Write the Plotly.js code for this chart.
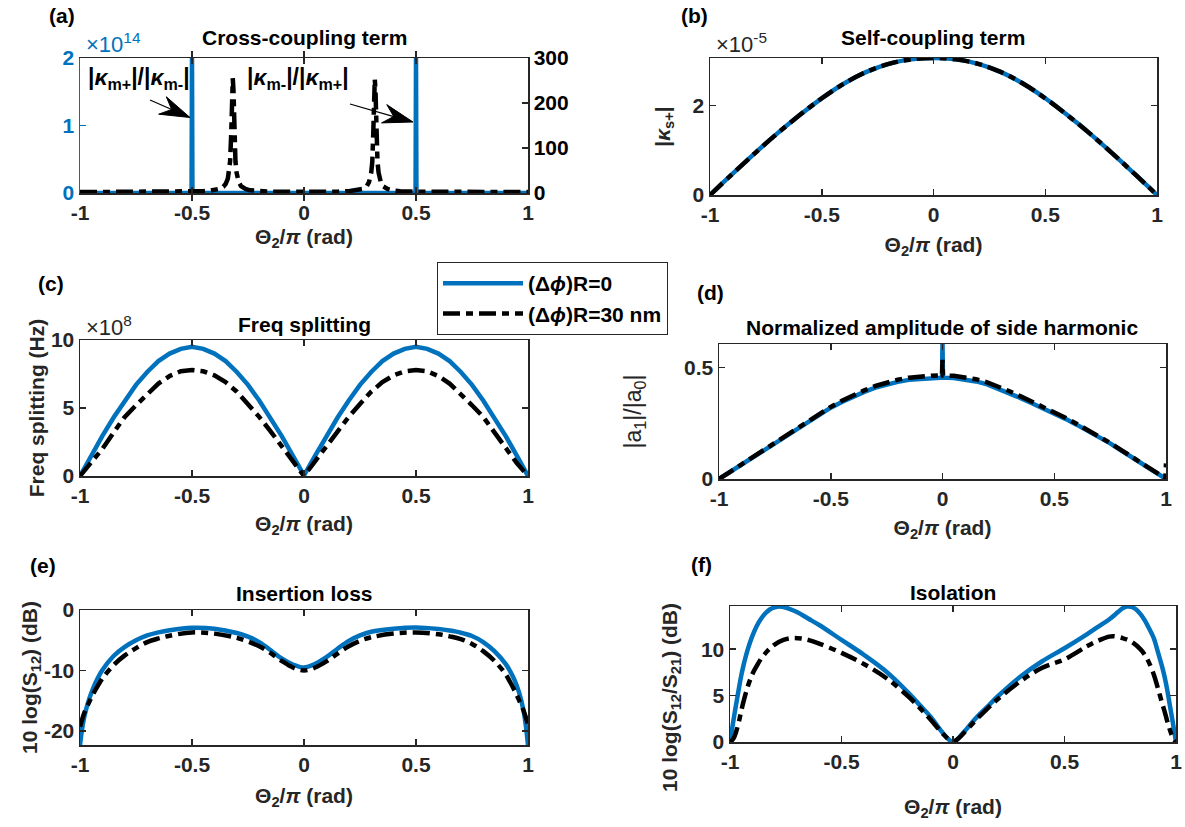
<!DOCTYPE html>
<html>
<head>
<meta charset="utf-8">
<script src="https://cdn.plot.ly/plotly-3.0.1.min.js"></script>
<style>html,body{margin:0;padding:0;background:#fff;}#chart{width:1185px;height:827px;}</style>
</head>
<body>
<div id="chart"></div>
<script>
// ---------------- DATA ----------------
const xTicks = [-1, -0.5, 0, 0.5, 1];
const xTickText = ['-1', '-0.5', '0', '0.5', '1'];

// (a) Cross-coupling term
const aBlueX = [-1, -0.502, -0.5, -0.498, 0.498, 0.5, 0.502, 1];
const aBlueY = [0, 0, 2e14, 0, 0, 2e14, 0, 0];
const aBlackX = [-1, -0.9, -0.8, -0.7, -0.6, -0.5, -0.45, -0.42, -0.4, -0.38, -0.36, -0.35, -0.34, -0.335, -0.33, -0.325, -0.321, -0.318, -0.315, -0.311, -0.306, -0.301, -0.291, -0.281, -0.261, -0.241, -0.2, -0.15, -0.1, 0, 0.1, 0.15, 0.2, 0.24, 0.26, 0.28, 0.29, 0.3, 0.305, 0.309, 0.313, 0.316, 0.319, 0.323, 0.328, 0.333, 0.343, 0.353, 0.373, 0.393, 0.43, 0.5, 0.6, 0.7, 0.8, 0.9, 1];
const aBlackY = [2, 2, 2, 2, 3, 3, 4, 5, 6, 9, 14, 20, 32, 45, 70, 130, 235, 255, 230, 130, 70, 45, 24, 15, 9, 6, 4, 3, 3, 2, 3, 3, 4, 6, 9, 15, 24, 45, 70, 130, 230, 253, 230, 130, 70, 45, 24, 15, 9, 6, 4, 3, 3, 2, 2, 2, 2];

// (b) Self-coupling term (units of 1e-5)
const bX = [-1, -0.9, -0.8, -0.7, -0.6, -0.5, -0.4, -0.3, -0.2, -0.1, 0, 0.1, 0.2, 0.3, 0.4, 0.5, 0.6, 0.7, 0.8, 0.9, 1];
const bBlue = [0, 0.47, 0.93, 1.37, 1.78, 2.16, 2.49, 2.75, 2.93, 3.03, 3.06, 3.03, 2.93, 2.75, 2.49, 2.16, 1.78, 1.37, 0.93, 0.47, 0];
const bBlack = [0, 0.47, 0.93, 1.37, 1.78, 2.16, 2.49, 2.75, 2.93, 3.03, 3.06, 3.03, 2.93, 2.75, 2.49, 2.16, 1.78, 1.37, 0.93, 0.47, 0];

// (c) Freq splitting (units of 1e8 Hz)
const cX = [-1, -0.95, -0.9, -0.85, -0.8, -0.75, -0.7, -0.65, -0.6, -0.55, -0.5, -0.45, -0.4, -0.35, -0.3, -0.25, -0.2, -0.15, -0.1, -0.05, 0, 0.05, 0.1, 0.15, 0.2, 0.25, 0.3, 0.35, 0.4, 0.45, 0.5, 0.55, 0.6, 0.65, 0.7, 0.75, 0.8, 0.85, 0.9, 0.95, 1];
const cBlue = [0, 1.5, 2.95, 4.3, 5.55, 6.7, 7.65, 8.45, 9.0, 9.35, 9.5, 9.35, 9.0, 8.45, 7.65, 6.7, 5.55, 4.3, 2.95, 1.5, 0.05, 1.5, 2.95, 4.3, 5.55, 6.7, 7.65, 8.45, 9.0, 9.35, 9.5, 9.35, 9.0, 8.45, 7.65, 6.7, 5.55, 4.3, 2.95, 1.5, 0];
const cBlack = [0, 0.95, 2.0, 3.2, 4.35, 5.2, 6.05, 6.8, 7.35, 7.7, 7.8, 7.7, 7.4, 6.9, 6.2, 5.3, 4.35, 3.3, 2.2, 1.1, 0, 1.1, 2.2, 3.3, 4.35, 5.3, 6.2, 6.9, 7.4, 7.7, 7.8, 7.7, 7.35, 6.8, 6.05, 5.2, 4.35, 3.2, 2.0, 0.95, 0];

// (d) Normalized amplitude of side harmonic
const dBlueX = [-1, -0.95, -0.9, -0.85, -0.8, -0.75, -0.7, -0.65, -0.6, -0.55, -0.5, -0.45, -0.4, -0.35, -0.3, -0.25, -0.2, -0.15, -0.1, -0.05, -0.002, 0, 0.002, 0.05, 0.1, 0.15, 0.2, 0.25, 0.3, 0.35, 0.4, 0.45, 0.5, 0.55, 0.6, 0.65, 0.7, 0.75, 0.8, 0.85, 0.9, 0.95, 1];
const dBlue = [0, 0.032, 0.065, 0.097, 0.13, 0.162, 0.195, 0.228, 0.26, 0.291, 0.32, 0.346, 0.37, 0.391, 0.41, 0.424, 0.436, 0.445, 0.45, 0.454, 0.455, 0.61, 0.455, 0.453, 0.448, 0.438, 0.425, 0.406, 0.385, 0.363, 0.34, 0.318, 0.296, 0.27, 0.244, 0.217, 0.19, 0.16, 0.128, 0.096, 0.064, 0.032, 0];
const dBlackX = [-1, -0.95, -0.9, -0.85, -0.8, -0.75, -0.7, -0.65, -0.6, -0.55, -0.5, -0.45, -0.4, -0.35, -0.3, -0.25, -0.2, -0.15, -0.1, -0.05, -0.002, 0, 0.002, 0.05, 0.1, 0.15, 0.2, 0.25, 0.3, 0.35, 0.4, 0.45, 0.5, 0.55, 0.6, 0.65, 0.7, 0.75, 0.8, 0.85, 0.9, 0.95, 0.997, 1];
const dBlack = [0, 0.033, 0.066, 0.099, 0.132, 0.165, 0.198, 0.231, 0.263, 0.294, 0.324, 0.351, 0.376, 0.398, 0.418, 0.433, 0.446, 0.455, 0.461, 0.464, 0.465, 0.535, 0.465, 0.463, 0.458, 0.448, 0.434, 0.415, 0.394, 0.371, 0.347, 0.324, 0.302, 0.275, 0.248, 0.221, 0.193, 0.162, 0.13, 0.098, 0.066, 0.034, 0.003, 0.07];

// (e) Insertion loss (dB)
const eX = [-1, -0.99, -0.98, -0.96, -0.94, -0.92, -0.9, -0.85, -0.8, -0.75, -0.7, -0.65, -0.6, -0.5, -0.4, -0.3, -0.25, -0.2, -0.15, -0.1, -0.05, 0, 0.05, 0.1, 0.15, 0.2, 0.25, 0.3, 0.4, 0.5, 0.6, 0.65, 0.7, 0.75, 0.8, 0.85, 0.9, 0.92, 0.94, 0.96, 0.98, 0.99, 1];
const eBlue = [-22.3, -19.5, -17.5, -14.8, -12.8, -11.2, -9.9, -7.6, -6.1, -5.0, -4.2, -3.7, -3.35, -2.95, -3.1, -3.8, -4.4, -5.3, -6.6, -8.0, -9.0, -9.5, -8.9, -7.8, -6.4, -5.1, -4.2, -3.6, -3.1, -2.9, -3.15, -3.4, -3.75, -4.3, -5.3, -6.8, -8.9, -10.1, -11.6, -13.6, -16.6, -19.0, -22.3];
const eBlack = [-19.3, -18.0, -16.9, -15.3, -13.8, -12.5, -11.3, -9.1, -7.5, -6.3, -5.3, -4.7, -4.25, -3.7, -3.9, -4.6, -5.2, -6.0, -7.1, -8.4, -9.5, -10.0, -9.5, -8.5, -7.2, -6.0, -5.1, -4.5, -3.9, -3.7, -4.0, -4.35, -4.8, -5.6, -6.8, -8.4, -10.6, -11.9, -13.3, -14.9, -16.6, -17.7, -18.9];

// (f) Isolation (dB)
const fBlueX = [-1, -0.99, -0.98, -0.97, -0.96, -0.95, -0.94, -0.92, -0.9, -0.88, -0.86, -0.84, -0.82, -0.8, -0.78, -0.76, -0.74, -0.7, -0.65, -0.6, -0.5, -0.4, -0.3, -0.2, -0.15, -0.1, -0.05, -0.02, 0, 0.02, 0.05, 0.1, 0.15, 0.2, 0.3, 0.4, 0.5, 0.6, 0.65, 0.7, 0.74, 0.76, 0.78, 0.8, 0.82, 0.84, 0.86, 0.88, 0.9, 0.92, 0.94, 0.95, 0.96, 0.97, 0.98, 0.99, 1];
const fBlue = [0, 1.5, 3.0, 4.4, 5.8, 7.1, 8.2, 10.0, 11.4, 12.5, 13.3, 13.9, 14.3, 14.5, 14.6, 14.55, 14.4, 14.0, 13.3, 12.6, 11.0, 9.4, 7.6, 5.3, 4.0, 2.7, 1.1, 0.3, 0, 0.3, 1.1, 2.5, 3.7, 4.9, 7.0, 8.7, 10.1, 11.6, 12.4, 13.2, 14.0, 14.4, 14.6, 14.55, 14.3, 13.8, 13.1, 12.2, 11.2, 9.6, 7.9, 6.9, 5.7, 4.3, 2.9, 1.5, 0];
const fBlackX = [-1, -0.99, -0.98, -0.97, -0.96, -0.95, -0.94, -0.92, -0.9, -0.88, -0.86, -0.84, -0.82, -0.8, -0.76, -0.72, -0.68, -0.65, -0.6, -0.5, -0.4, -0.3, -0.2, -0.15, -0.1, -0.05, -0.02, 0, 0.02, 0.05, 0.1, 0.15, 0.2, 0.3, 0.4, 0.5, 0.6, 0.65, 0.7, 0.72, 0.76, 0.8, 0.84, 0.86, 0.88, 0.9, 0.92, 0.94, 0.95, 0.96, 0.97, 0.98, 0.99, 1];
const fBlack = [0, 0.2, 0.6, 1.3, 2.2, 3.3, 4.3, 6.0, 7.3, 8.2, 9.0, 9.6, 10.1, 10.5, 11.0, 11.2, 11.15, 11.0, 10.6, 9.6, 8.4, 6.9, 4.9, 3.7, 2.4, 1.0, 0.3, 0, 0.3, 1.0, 2.3, 3.5, 4.6, 6.5, 8.0, 8.9, 10.3, 10.9, 11.35, 11.4, 11.2, 10.8, 10.0, 9.4, 8.5, 7.3, 5.7, 4.0, 3.2, 2.3, 1.5, 0.8, 0.3, 0];

const seriesNames = ['(Δ<i>ϕ</i>)R=0', '(Δ<i>ϕ</i>)R=30 nm'];

// ---------------- STYLE / LAYOUT ----------------
const W = 1185, H = 827;
const X = px => px / W;
const Y = py => 1 - py / H;
const FONT = 'Liberation Sans, Arial, Helvetica, sans-serif';
const BLUE = '#0072BD';
const AXC = '#262626';
const LW = 4.5;
const DASH = '17px,6px,7px,6px';

function blueLine(x, y, xa, ya, show, shape) {
  return {x: x, y: y, xaxis: xa, yaxis: ya, type: 'scatter', mode: 'lines', name: seriesNames[0],
    showlegend: !!show, line: {color: BLUE, width: LW, shape: shape || 'linear'}, hoverinfo: 'skip'};
}
function blackLine(x, y, xa, ya, show, shape) {
  return {x: x, y: y, xaxis: xa, yaxis: ya, type: 'scatter', mode: 'lines', name: seriesNames[1],
    showlegend: !!show, line: {color: '#000000', width: LW, dash: DASH, shape: shape || 'linear'}, hoverinfo: 'skip'};
}

const data = [
  blueLine(aBlueX, aBlueY, 'x', 'y'),
  blackLine(aBlackX, aBlackY, 'x', 'y2'),
  blueLine(bX, bBlue, 'x2', 'y3', false, 'spline'),
  blackLine(bX, bBlack, 'x2', 'y3', false, 'spline'),
  blueLine(cX, cBlue, 'x3', 'y4', true),
  blackLine(cX, cBlack, 'x3', 'y4', true),
  blueLine(dBlueX, dBlue, 'x4', 'y5'),
  blackLine(dBlackX, dBlack, 'x4', 'y5'),
  blueLine(eX, eBlue, 'x5', 'y6', false, 'spline'),
  blackLine(eX, eBlack, 'x5', 'y6', false, 'spline'),
  blueLine(fBlueX, fBlue, 'x6', 'y7', false, 'spline'),
  blackLine(fBlackX, fBlack, 'x6', 'y7', false, 'spline')
];

const tickFont = {family: FONT, size: 21, color: AXC, weight: 'bold'};
const titleFont = {family: FONT, size: 21, color: AXC, weight: 'bold'};
const thetaTitle = 'Θ<sub>2</sub>/<i>π</i> (rad)';

function baseAxis(extra) {
  return Object.assign({
    showline: true, linecolor: AXC, linewidth: 1.5, mirror: 'allticks',
    ticks: 'inside', ticklen: 6, tickwidth: 1.5, tickcolor: AXC,
    showgrid: false, zeroline: false, tickfont: tickFont, fixedrange: true
  }, extra);
}
function xAxis(p0, p1, anchor, standoff) {
  return baseAxis({domain: [X(p0), X(p1)], anchor: anchor, range: [-1, 1],
    tickmode: 'array', tickvals: xTicks, ticktext: xTickText,
    title: {text: thetaTitle, font: titleFont, standoff: standoff}});
}
function yAxis(t0, t1, anchor, range, tv, tt, extra) {
  return baseAxis(Object.assign({domain: [Y(t1), Y(t0)], anchor: anchor, range: range,
    tickmode: 'array', tickvals: tv, ticktext: tt}, extra || {}));
}

const layout = {
  width: W, height: H,
  margin: {l: 0, r: 0, t: 0, b: 0},
  paper_bgcolor: '#ffffff', plot_bgcolor: '#ffffff',
  font: {family: FONT, size: 21, color: AXC, weight: 'bold'},
  showlegend: true,
  legend: {x: X(437), y: Y(262), xanchor: 'left', yanchor: 'top', bgcolor: '#ffffff',
    bordercolor: AXC, borderwidth: 1, font: {family: FONT, size: 21, color: '#000000', weight: 'bold'},
    itemwidth: 80, tracegroupgap: 0},
  // (a)
  xaxis: xAxis(80, 528, 'y', 6),
  yaxis: yAxis(58, 193, 'x', [0, 2e14], [0, 1e14, 2e14], ['0', '1', '2'],
    {mirror: false, linecolor: BLUE, tickcolor: BLUE, tickfont: Object.assign({}, tickFont, {color: BLUE})}),
  yaxis2: yAxis(58, 193, 'x', [0, 300], [0, 100, 200, 300], ['0', '100', '200', '300'],
    {overlaying: 'y', side: 'right', mirror: false, linecolor: AXC, tickfont: Object.assign({}, tickFont, {color: '#000000'})}),
  // (b)
  xaxis2: xAxis(710, 1157, 'y3', 12),
  yaxis3: yAxis(58, 195, 'x2', [0, 3.06], [0, 2], ['0', '2'],
    {title: {text: '|<i>κ</i><sub>s+</sub>|', font: titleFont, standoff: 16}}),
  // (c)
  xaxis3: xAxis(80, 528, 'y4', 10),
  yaxis4: yAxis(340, 476, 'x3', [0, 10], [0, 5, 10], ['0', '5', '10'],
    {title: {text: 'Freq splitting (Hz)', font: titleFont, standoff: 0}}),
  // (d)
  xaxis4: xAxis(719, 1166, 'y5', 11),
  yaxis5: yAxis(344, 479, 'x4', [0, 0.606], [0, 0.5], ['0', '0.5'],
    {title: {text: '|a<sub>1</sub>|/|a<sub>0</sub>|', font: {family: FONT, size: 23, color: AXC, weight: 'normal'}, standoff: 36}}),
  // (e)
  xaxis5: xAxis(80, 528, 'y6', 13),
  yaxis6: yAxis(610, 745, 'x5', [-22.3, 0], [-20, -10, 0], ['-20', '-10', '0'],
    {title: {text: '10 log(S<sub>12</sub>) (dB)', font: titleFont, standoff: 0}}),
  // (f)
  xaxis6: xAxis(730, 1176, 'y7', 27),
  yaxis7: yAxis(606, 742, 'x6', [0, 14.65], [0, 5, 10], ['0', '5', '10']),
  annotations: [],
  shapes: []
};

function txt(text, xc, yc, opts) {
  return Object.assign({text: text, xref: 'paper', yref: 'paper', x: X(xc), y: Y(yc),
    xanchor: 'center', yanchor: 'middle', showarrow: false,
    font: {family: FONT, size: 21, color: '#000000', weight: 'bold'}}, opts || {});
}
const ann = layout.annotations;
// panel labels
ann.push(txt('(a)', 62, 15), txt('(b)', 694, 15), txt('(c)', 51, 283), txt('(d)', 710, 292), txt('(e)', 43, 565), txt('(f)', 701, 564));
// subplot titles
ann.push(txt('Cross-coupling term', 304, 37), txt('Self-coupling term', 933, 37), txt('Freq splitting', 304, 324),
  txt('Normalized amplitude of side harmonic', 942, 328), txt('Insertion loss', 304, 593), txt('Isolation', 953, 592));
// exponent labels
ann.push(txt('×10<sup>14</sup>', 84, 43, {xanchor: 'left', font: {family: FONT, size: 22, color: BLUE, weight: 'normal'}}));
ann.push(txt('×10<sup>-5</sup>', 714, 43, {xanchor: 'left', font: {family: FONT, size: 22, color: AXC, weight: 'normal'}}));
ann.push(txt('×10<sup>8</sup>', 84, 326, {xanchor: 'left', font: {family: FONT, size: 22, color: AXC, weight: 'normal'}}));
// (f) y-axis label (placed as in the reference, lower than the axis centre)
ann.push(txt('10 log(S<sub>12</sub>/S<sub>21</sub>) (dB)', 671, 697, {textangle: -90, font: {family: FONT, size: 21, color: AXC, weight: 'bold'}}));
// (a) in-plot labels
ann.push(txt('|<i>κ</i><sub>m+</sub>|/|<i>κ</i><sub>m-</sub>|', 86, 79, {xanchor: 'left', font: {family: FONT, size: 23, color: '#000000', weight: 'bold'}}));
ann.push(txt('|<i>κ</i><sub>m-</sub>|/|<i>κ</i><sub>m+</sub>|', 245, 79, {xanchor: 'left', font: {family: FONT, size: 23, color: '#000000', weight: 'bold'}}));

// arrows (line + notched head) for the two in-plot labels
function arrow(tail, tip, headLen, halfW, notch) {
  const dx = tip[0] - tail[0], dy = tip[1] - tail[1];
  const L = Math.hypot(dx, dy), ux = dx / L, uy = dy / L, nx = -uy, ny = ux;
  const bx = tip[0] - headLen * ux, by = tip[1] - headLen * uy;
  const w1 = [bx + halfW * nx, by + halfW * ny], w2 = [bx - halfW * nx, by - halfW * ny];
  const nb = [tip[0] - notch * ux, tip[1] - notch * uy];
  const P = p => X(p[0]).toFixed(5) + ',' + Y(p[1]).toFixed(5);
  layout.shapes.push({type: 'line', xref: 'paper', yref: 'paper', x0: X(tail[0]), y0: Y(tail[1]), x1: X(nb[0]), y1: Y(nb[1]),
    line: {color: '#000000', width: 1.3}});
  layout.shapes.push({type: 'path', xref: 'paper', yref: 'paper',
    path: 'M' + P(tip) + ' L' + P(w1) + ' L' + P(nb) + ' L' + P(w2) + ' Z',
    fillcolor: '#000000', line: {color: '#000000', width: 1}});
}
arrow([150, 100], [190, 117.5], 30, 9.5, 20);
arrow([350, 104], [413, 122], 30, 9.5, 20);

Plotly.newPlot('chart', data, layout, {staticPlot: true, displayModeBar: false});
</script>
</body>
</html>
